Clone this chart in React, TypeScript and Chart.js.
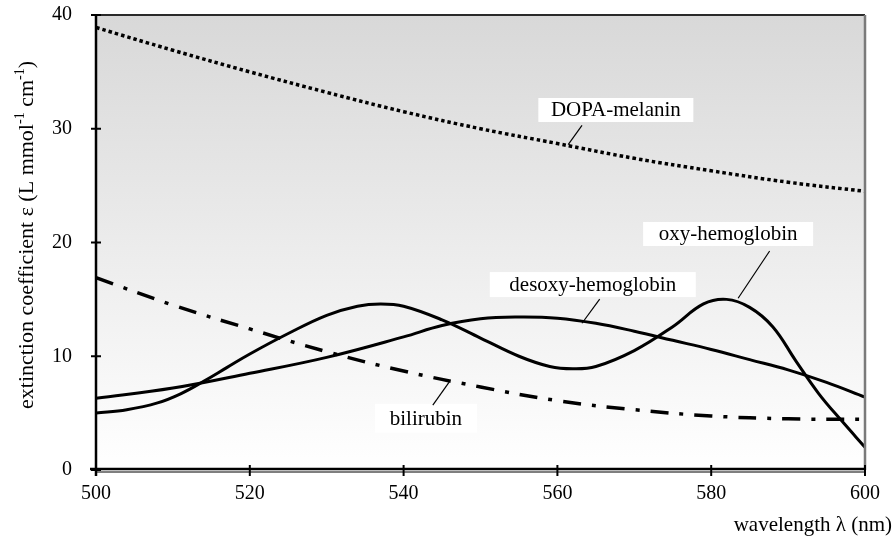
import { useEffect, useRef } from "react";
import { Chart, registerables } from "chart.js";

Chart.register(...registerables);

const FONT = '"Liberation Serif", "Times New Roman", serif';

// ---- data ----
const xTickStep = 20;
const yTickStep = 10;
const xMin = 500;
const xMax = 600;
const yMin = 0;
const yMax = 40;

const dopaWl = [500, 510, 520, 530, 540, 550, 560, 570, 580, 590, 600];
const dopaVals = [38.9, 36.9, 35.0, 33.2, 31.5, 30.0, 28.7, 27.4, 26.3, 25.3, 24.5];

const biliWl = [500, 510, 520, 530, 540, 550, 560, 570, 580, 590, 600];
const biliVals = [16.9, 14.5, 12.4, 10.4, 8.7, 7.3, 6.1, 5.3, 4.75, 4.5, 4.45];

const desoxyWl = [500, 510, 520, 530, 540, 545, 550, 555, 560, 565, 570, 575, 580, 585, 590, 595, 600];
const desoxyVals = [6.3, 7.2, 8.5, 9.9, 11.7, 12.7, 13.3, 13.45, 13.35, 12.9, 12.2, 11.4, 10.6, 9.7, 8.8, 7.7, 6.4];

const oxyWl = [500, 504, 508, 511, 514, 517, 520, 525, 530, 534, 537, 540, 545, 550, 555, 559, 562, 565, 570, 575, 579, 582, 585, 588, 591, 594, 597, 600];
const oxyVals = [5.0, 5.3, 5.9, 6.7, 7.8, 9.0, 10.2, 12.0, 13.6, 14.4, 14.6, 14.4, 13.2, 11.6, 10.0, 9.1, 8.9, 9.1, 10.5, 12.6, 14.6, 15.0, 14.3, 12.6, 9.6, 6.7, 4.3, 2.0];

// labels (annotation text) with anchor points in data units
const labelTexts = ["DOPA-melanin", "desoxy-hemoglobin", "oxy-hemoglobin", "bilirubin"];
const labelCenterX = [567.6, 564.6, 582.2, 542.9];
const labelCenterY = [31.65, 16.3, 20.75, 4.55];
const leaderFromX = [563.2, 565.5, 587.6, 543.8];
const leaderFromY = [30.3, 15.03, 19.25, 5.7];
const leaderToX = [561.4, 563.2, 583.5, 545.9];
const leaderToY = [28.6, 12.9, 15.1, 7.7];
const labelBoxW = [155, 206, 170, 102];
const labelBoxH = [24, 25, 24, 29];

const xTitle = "wavelength λ (nm)";
const yTitleParts: [string, boolean][] = [
  ["extinction coefficient ε (L mmol", false],
  ["-1", true],
  [" cm", false],
  ["-1", true],
  [")", false],
];

const toPts = (xs: number[], ys: number[]) => xs.map((x, i) => ({ x, y: ys[i] }));

const backgroundPlugin = {
  id: "bgGradient",
  beforeDatasetsDraw(chart: any) {
    const { ctx, chartArea } = chart;
    const { left, top, right, bottom } = chartArea;
    const g = ctx.createLinearGradient(0, top, 0, bottom);
    g.addColorStop(0, "#d8d8d8");
    g.addColorStop(1, "#ffffff");
    ctx.save();
    ctx.fillStyle = g;
    ctx.fillRect(left, top, right - left, bottom - top);
    ctx.restore();
  },
};

const axesPlugin = {
  id: "axesDecor",
  afterDatasetsDraw(chart: any) {
    const { ctx, chartArea, scales } = chart;
    const { left, top, right, bottom } = chartArea;
    const xs = scales.x;
    const ys = scales.y;
    ctx.save();
    ctx.strokeStyle = "#2a2a2a";
    ctx.lineWidth = 2;
    ctx.beginPath();
    ctx.moveTo(left, top);
    ctx.lineTo(right, top);
    ctx.stroke();
    ctx.strokeStyle = "#7a7a7a";
    ctx.lineWidth = 2.5;
    ctx.beginPath();
    ctx.moveTo(right, top);
    ctx.lineTo(right, bottom);
    ctx.stroke();
    ctx.strokeStyle = "#000";
    ctx.lineWidth = 2.5;
    ctx.beginPath();
    ctx.moveTo(left - 6, bottom - 1);
    ctx.lineTo(right, bottom - 1);
    ctx.stroke();
    ctx.strokeStyle = "#555";
    ctx.lineWidth = 1.5;
    ctx.beginPath();
    ctx.moveTo(left, bottom + 2);
    ctx.lineTo(right, bottom + 2);
    ctx.stroke();
    ctx.strokeStyle = "#000";
    ctx.lineWidth = 2.5;
    ctx.beginPath();
    ctx.moveTo(left, top);
    ctx.lineTo(left, bottom + 6);
    ctx.stroke();
    ctx.lineWidth = 2;
    for (let v = yMin; v <= yMax; v += yTickStep) {
      const py = ys.getPixelForValue(v);
      ctx.beginPath();
      ctx.moveTo(left - 5, py);
      ctx.lineTo(left + 5, py);
      ctx.stroke();
    }
    for (let v = xMin; v <= xMax; v += xTickStep) {
      const px = xs.getPixelForValue(v);
      ctx.beginPath();
      ctx.moveTo(px, bottom - 5);
      ctx.lineTo(px, bottom + 6);
      ctx.stroke();
    }
    ctx.restore();
  },
};

const labelsPlugin = {
  id: "curveLabels",
  afterDatasetsDraw(chart: any) {
    const { ctx, scales } = chart;
    const xs = scales.x;
    const ys = scales.y;
    ctx.save();
    ctx.font = `21px ${FONT}`;
    ctx.textAlign = "center";
    ctx.textBaseline = "middle";
    labelTexts.forEach((t, i) => {
      const cx = xs.getPixelForValue(labelCenterX[i]);
      const cy = ys.getPixelForValue(labelCenterY[i]);
      const w = labelBoxW[i];
      const h = labelBoxH[i];
      ctx.fillStyle = "#ffffff";
      ctx.fillRect(cx - w / 2, cy - h / 2, w, h);
      ctx.fillStyle = "#000";
      ctx.fillText(t, cx, cy + 1);
      ctx.strokeStyle = "#000";
      ctx.lineWidth = 1.2;
      ctx.beginPath();
      ctx.moveTo(xs.getPixelForValue(leaderFromX[i]), ys.getPixelForValue(leaderFromY[i]));
      ctx.lineTo(xs.getPixelForValue(leaderToX[i]), ys.getPixelForValue(leaderToY[i]));
      ctx.stroke();
    });
    ctx.restore();
  },
};

const titlesPlugin = {
  id: "axisTitles",
  afterDraw(chart: any) {
    const { ctx, width, height } = chart;
    ctx.save();
    ctx.fillStyle = "#000";
    ctx.font = `21px ${FONT}`;
    ctx.textAlign = "right";
    ctx.textBaseline = "alphabetic";
    ctx.fillText(xTitle, width - 1, height - 6);
    const mainFont = `22px ${FONT}`;
    const supFont = `14px ${FONT}`;
    let total = 0;
    yTitleParts.forEach(([s, sup]) => {
      ctx.font = sup ? supFont : mainFont;
      total += ctx.measureText(s).width;
    });
    ctx.translate(33, 235);
    ctx.rotate(-Math.PI / 2);
    ctx.textAlign = "left";
    let x = -total / 2;
    yTitleParts.forEach(([s, sup]) => {
      ctx.font = sup ? supFont : mainFont;
      ctx.fillText(s, x, sup ? -9 : 0);
      x += ctx.measureText(s).width;
    });
    ctx.restore();
  },
};

export default function App() {
  const ref = useRef<HTMLCanvasElement>(null);
  useEffect(() => {
    document.body.style.margin = "0";
    const chart = new Chart(ref.current!, {
      type: "line",
      data: {
        datasets: [
          {
            label: "DOPA-melanin",
            data: toPts(dopaWl, dopaVals),
            borderColor: "#000",
            borderWidth: 3.5,
            borderDash: [3.5, 3],
            borderCapStyle: "butt",
            pointRadius: 0,
            tension: 0.4,
            fill: false,
          },
          {
            label: "bilirubin",
            data: toPts(biliWl, biliVals),
            borderColor: "#000",
            borderWidth: 3.5,
            borderDash: [18, 11, 4, 11],
            borderCapStyle: "butt",
            pointRadius: 0,
            tension: 0.4,
            fill: false,
          },
          {
            label: "desoxy-hemoglobin",
            data: toPts(desoxyWl, desoxyVals),
            borderColor: "#000",
            borderWidth: 3,
            pointRadius: 0,
            tension: 0.4,
            fill: false,
          },
          {
            label: "oxy-hemoglobin",
            data: toPts(oxyWl, oxyVals),
            borderColor: "#000",
            borderWidth: 3,
            pointRadius: 0,
            tension: 0.4,
            fill: false,
          },
        ],
      },
      options: {
        responsive: false,
        animation: false,
        devicePixelRatio: 1,
        layout: { padding: { top: 15, right: 28, left: 0, bottom: 0 } },
        plugins: {
          legend: { display: false },
          tooltip: { enabled: false },
        },
        scales: {
          x: {
            type: "linear",
            min: xMin,
            max: xMax,
            ticks: {
              stepSize: xTickStep,
              font: { family: FONT, size: 20 },
              color: "#000",
              padding: 12,
            },
            grid: { display: false, drawTicks: false },
            border: { display: false },
            afterFit: (s: any) => {
              s.height = 67;
              s.paddingLeft = 0;
              s.paddingRight = 0;
            },
          },
          y: {
            type: "linear",
            min: yMin,
            max: yMax,
            ticks: {
              stepSize: yTickStep,
              font: { family: FONT, size: 20 },
              color: "#000",
              padding: 24,
            },
            grid: { display: false, drawTicks: false },
            border: { display: false },
            afterFit: (s: any) => {
              s.width = 96;
              s.paddingTop = 0;
              s.paddingBottom = 0;
            },
          },
        },
      },
      plugins: [backgroundPlugin, axesPlugin, labelsPlugin, titlesPlugin],
    } as any);
    return () => chart.destroy();
  }, []);
  return <canvas ref={ref} width={893} height={537} style={{ display: "block" }} />;
}
